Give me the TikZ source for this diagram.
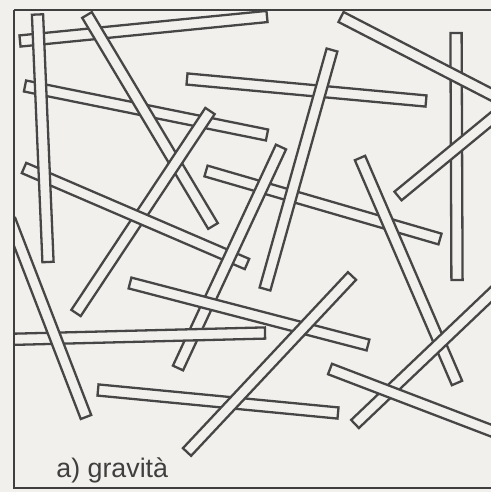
\documentclass[tikz,border=0pt]{standalone}
\usepackage{fontspec}
\setmainfont{Liberation Sans}
\usetikzlibrary{calc}
\definecolor{paper}{RGB}{242,240,236}
\definecolor{ink}{RGB}{70,70,70}
\tikzset{
  rodsty/.style={fill=paper, draw=ink, line width=1.15pt, line join=miter},
  boxsty/.style={draw=ink!90!black, line width=1.4pt},
  labelsty/.style={text=ink!90!black, font=\fontsize{13.4}{15}\selectfont, inner sep=0pt, anchor=base west}
}
\newcommand\rw{2.8pt}
\newcommand\myrod[2]{%
  \path (#1) coordinate (ra) (#2) coordinate (rb);
  \filldraw[rodsty] ($(ra)!\rw!90:(rb)$) -- ($(rb)!\rw!-90:(ra)$) -- ($(rb)!\rw!90:(ra)$) -- ($(ra)!\rw!-90:(rb)$) -- cycle;}
\begin{document}
\begin{tikzpicture}[x=0.5pt,y=-0.5pt]
\useasboundingbox[fill=paper] (0,0) rectangle (491,492);
\begin{scope}
\clip (14,10) rectangle (491,488);
% B
\myrod{20,41}{267,16.5}
% D
\myrod{25,86}{267,135}
% E
\myrod{187,79}{426,101}
% C
\myrod{87,15}{213,226}
% F
\myrod{210,111}{76,313}
% G
\myrod{24,168}{247,264}
% H
\myrod{206,171}{440,239}
% I
\myrod{281,147}{178,368}
% J
\myrod{332,50}{265,289}
% A
\myrod{37.5,14.5}{48,262}
% K
\myrod{130,283}{368,345}
% L
\myrod{5,339.5}{265,333}
% M
\myrod{10,220}{86,417}
% N
\myrod{98,390}{338,413}
% O
\myrod{187,452}{352,276}
% S
\myrod{360,158}{457,383}
% Q
\myrod{355,424}{500,286}
% P
\myrod{330,369}{500,434}
% T
\myrod{456,33}{457,280}
% U
\myrod{341,17}{500,99}
% R
\myrod{398,196}{500,112}
\end{scope}
\draw[boxsty] (14,10) -- (14,488) -- (495,488);
\draw[boxsty] (14,10) -- (495,10);
\node[labelsty] (lab) at (56,477) {a) gravità};
\end{tikzpicture}
\end{document}
